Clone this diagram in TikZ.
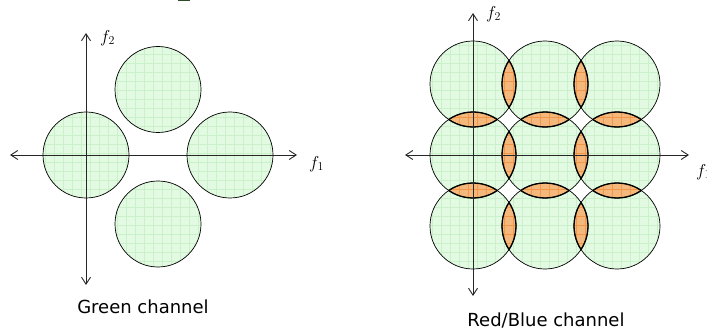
\documentclass[tikz,border=0pt]{standalone}
\usepackage{fontspec}
\setsansfont{DejaVu Sans}
\usepackage{xcolor}
\usepackage{tikz}
\usetikzlibrary{arrows.meta}
\definecolor{cgreen}{HTML}{E2FAE2}
\definecolor{cgrid}{HTML}{CBF1CB}
\definecolor{corange}{HTML}{F4B87C}
\definecolor{cogrid}{HTML}{F2964A}
\definecolor{cdark}{HTML}{2E4A2A}
\tikzset{>={Straight Barb[length=7pt,width=9pt]},
  axis/.style={line width=0.9pt,black!85,<->},
  disc/.style={fill=cgreen},
  rim/.style={line width=0.7pt,black},
  gridln/.style={cgrid,line width=0.5pt},
  lensfill/.style={fill=corange},
  lensgrid/.style={cogrid,line width=0.5pt},
  lensedge/.style={line width=1.3pt,black},
  flabel/.style={font=\fontsize{17}{20}\selectfont,inner sep=0pt},
  caption/.style={font=\sffamily\fontsize{18}{21}\selectfont,inner sep=0pt}}
\newcommand{\rad}{43pt}
% intersection of two discs: orange, gridded, bold rim
\newcommand{\lens}[2]{%
  \begin{scope}\clip (#1) circle (\rad); \fill[lensfill] (#2) circle (\rad);
    \clip (#2) circle (\rad); \draw[lensgrid,step=9pt] (400,0) grid (707,300);\end{scope}
  \begin{scope}\clip (#1) circle (\rad); \draw[lensedge] (#2) circle (\rad);\end{scope}
  \begin{scope}\clip (#2) circle (\rad); \draw[lensedge] (#1) circle (\rad);\end{scope}}

\begin{document}
\begin{tikzpicture}[x=1pt,y=-1pt]
\useasboundingbox (0,0) rectangle (707,334);
\fill[cdark] (178,0) rectangle (190,1.2);

% ===== Panel A: green channel =====
\begin{scope}
  \coordinate (gW) at (86,155); \coordinate (gE) at (230,155);
  \coordinate (gN) at (158,89.5); \coordinate (gS) at (158,224);
  \foreach \c in {gW,gE,gN,gS} \fill[disc] (\c) circle (\rad);
  \begin{scope}
    \clip (gW) circle (\rad) (gE) circle (\rad) (gN) circle (\rad) (gS) circle (\rad);
    \draw[gridln,step=9pt] (0,0) grid (320,300);
  \end{scope}
  \foreach \c in {gW,gE,gN,gS} \draw[rim] (\c) circle (\rad);
  \coordinate (axL) at (10,155); \coordinate (axR) at (297,155);
  \coordinate (axT) at (86,33); \coordinate (axB) at (86,285);
  \draw[axis] (axL) -- (axR);
  \draw[axis] (axB) -- (axT);
  \node[flabel,anchor=west] (fone) at (309,164) {$f_1$};
  \node[flabel,anchor=west] (ftwo) at (100,38) {$f_2$};
  \node[caption] (gcap) at (143,307) {Green channel};
\end{scope}

% ===== Panel B: red/blue channel =====
\begin{scope}
  \foreach \i/\y in {1/84,2/155,3/226}
    \foreach \j/\x in {1/473,2/545,3/617}
      \coordinate (r\i\j) at (\x,\y);
  \foreach \i in {1,2,3} \foreach \j in {1,2,3} \fill[disc] (r\i\j) circle (\rad);
  \begin{scope}
    \clip (r11) circle (\rad) (r12) circle (\rad) (r13) circle (\rad)
          (r21) circle (\rad) (r22) circle (\rad) (r23) circle (\rad)
          (r31) circle (\rad) (r32) circle (\rad) (r33) circle (\rad);
    \draw[gridln,step=9pt] (400,0) grid (707,300);
  \end{scope}
  \foreach \i in {1,2,3}
    \foreach \j/\k in {1/2,2/3} {\lens{r\i\j}{r\i\k} \lens{r\j\i}{r\k\i}}
  \foreach \i in {1,2,3} \foreach \j in {1,2,3} \draw[rim] (r\i\j) circle (\rad);
  \coordinate (bxL) at (405,155); \coordinate (bxR) at (689,155);
  \coordinate (bxT) at (473,13); \coordinate (bxB) at (473,296);
  \draw[axis] (bxL) -- (bxR);
  \draw[axis] (bxB) -- (bxT);
  \node[flabel,anchor=west] (bone) at (696,172) {$f_1$};
  \node[flabel,anchor=west] (btwo) at (486,14) {$f_2$};
  \node[caption] (bcap) at (546,320) {Red/Blue channel};
\end{scope}

\end{tikzpicture}
\end{document}
